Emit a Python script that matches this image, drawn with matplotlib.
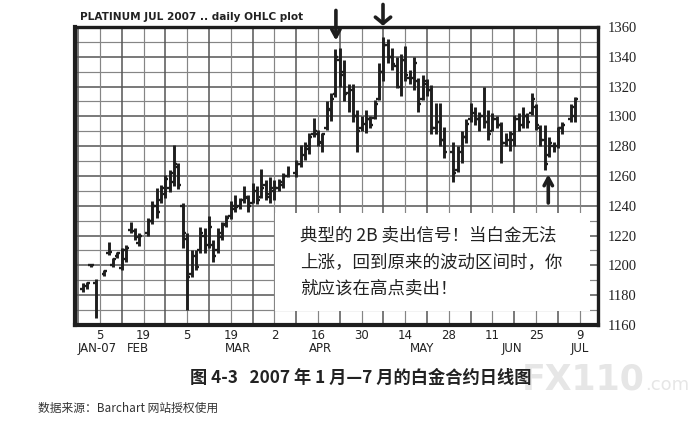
import matplotlib
matplotlib.use("Agg")
import matplotlib.pyplot as plt
from matplotlib.patches import Rectangle
import numpy as np

# ---- data (trading-day index, 0 = Feb 5 2007) ----
days = [-4, -3, -2, -1, 1, 2, 3, 4, 5, 6, 7, 8, 9, 11, 12, 13, 14, 15, 16, 17, 18, 19, 20,
        21, 22, 23, 24, 25, 26, 27, 28, 29, 30, 31, 32, 33, 34, 35, 36, 37, 38, 39, 40,
        41, 42, 43, 45, 46, 47, 48, 49, 50, 51, 52, 53, 54, 55, 56, 57, 58, 59, 60,
        61, 62, 63, 64, 65, 66, 67, 68, 69, 70, 71, 72, 73, 74, 75, 76, 77, 78, 79,
        81, 82, 83, 84, 85, 86, 87, 88, 89, 90, 91, 92, 93, 94, 95, 96, 97, 98, 99, 100,
        101, 102, 103, 104, 105, 106, 108, 109]
opens = [1184, 1186, 1200, 1188, 1194, 1208, 1200, 1206, 1198, 1204, 1224, 1223, 1215, 1222, 1230, 1240, 1244, 1248, 1252, 1256, 1266, 1240, 1218,
         1194, 1206, 1210, 1220, 1214, 1214, 1210, 1219, 1228, 1233, 1238, 1240, 1244, 1245, 1242, 1250, 1246, 1254, 1246, 1250,
         1252, 1254, 1260, 1262, 1268, 1274, 1278, 1288, 1288, 1282, 1292, 1304, 1315, 1338, 1330, 1316, 1318, 1300, 1292,
         1295, 1298, 1299, 1312, 1330, 1348, 1340, 1334, 1320, 1338, 1326, 1326, 1324, 1312, 1322, 1318, 1292, 1296, 1284,
         1276, 1264, 1276, 1286, 1298, 1302, 1298, 1300, 1296, 1290, 1298, 1294, 1282, 1284, 1284, 1298, 1294, 1300, 1302, 1306,
         1292, 1284, 1274, 1280, 1280, 1292, 1298, 1300]
highs = [1188, 1189, 1201, 1191, 1197, 1216, 1205, 1209, 1212, 1214, 1229, 1225, 1222, 1232, 1243, 1252, 1254, 1261, 1264, 1281, 1269, 1242, 1222,
         1210, 1210, 1226, 1225, 1233, 1217, 1225, 1229, 1234, 1243, 1247, 1245, 1253, 1247, 1255, 1253, 1265, 1257, 1259, 1257,
         1258, 1262, 1267, 1271, 1281, 1283, 1289, 1299, 1291, 1289, 1310, 1316, 1345, 1346, 1338, 1322, 1322, 1304, 1300,
         1304, 1300, 1311, 1336, 1353, 1352, 1346, 1340, 1342, 1347, 1331, 1340, 1326, 1328, 1325, 1321, 1309, 1309, 1293,
         1283, 1280, 1290, 1298, 1309, 1306, 1303, 1320, 1304, 1302, 1300, 1296, 1289, 1290, 1301, 1302, 1306, 1302, 1316, 1308,
         1294, 1294, 1286, 1283, 1293, 1296, 1308, 1313]
lows = [1182, 1184, 1199, 1165, 1193, 1207, 1199, 1205, 1197, 1202, 1222, 1217, 1213, 1220, 1228, 1232, 1242, 1245, 1249, 1253, 1251, 1212, 1170,
        1192, 1197, 1208, 1208, 1212, 1202, 1208, 1217, 1226, 1231, 1236, 1238, 1242, 1236, 1242, 1241, 1245, 1244, 1242, 1244,
        1250, 1252, 1259, 1259, 1266, 1271, 1275, 1286, 1280, 1276, 1291, 1297, 1313, 1320, 1310, 1303, 1296, 1276, 1290,
        1289, 1292, 1298, 1311, 1324, 1336, 1331, 1319, 1314, 1324, 1322, 1318, 1303, 1311, 1314, 1288, 1288, 1280, 1272,
        1256, 1263, 1269, 1282, 1296, 1294, 1290, 1292, 1284, 1290, 1292, 1269, 1280, 1277, 1280, 1290, 1292, 1292, 1301, 1291,
        1280, 1264, 1273, 1276, 1279, 1288, 1296, 1296]
closes = [1187, 1188, 1200, 1178, 1196, 1209, 1204, 1208, 1210, 1212, 1226, 1219, 1220, 1230, 1240, 1236, 1252, 1258, 1262, 1268, 1254, 1222, 1192,
          1206, 1199, 1222, 1212, 1226, 1206, 1222, 1227, 1232, 1240, 1239, 1243, 1246, 1240, 1250, 1244, 1252, 1248, 1252, 1252,
          1256, 1260, 1265, 1268, 1275, 1280, 1286, 1290, 1283, 1288, 1305, 1312, 1340, 1328, 1315, 1318, 1300, 1290, 1296,
          1298, 1294, 1308, 1330, 1348, 1340, 1335, 1322, 1338, 1328, 1325, 1336, 1308, 1324, 1318, 1292, 1296, 1284, 1276,
          1262, 1276, 1286, 1295, 1304, 1298, 1300, 1296, 1288, 1298, 1294, 1282, 1286, 1288, 1298, 1294, 1300, 1296, 1312, 1294,
          1284, 1268, 1282, 1278, 1292, 1294, 1306, 1312]

y_ticks = [1160, 1180, 1200, 1220, 1240, 1260, 1280, 1300, 1320, 1340, 1360]
day_tick_pos = [0, 10, 20, 30, 40, 50, 60, 70, 80, 90, 100, 110]
day_tick_labels = ["5", "19", "5", "19", "2", "16", "30", "14", "28", "11", "25", "9"]
month_pos = [-0.7, 8.7, 31.7, 50.5, 73.9, 94.5, 110]
month_labels = ["JAN-07", "FEB", "MAR", "APR", "MAY", "JUN", "JUL"]

title = "PLATINUM JUL 2007 .. daily OHLC plot"
note = "典型的 2B 卖出信号！当白金无法\n上涨，回到原来的波动区间时，你\n就应该在高点卖出！"
caption = "图 4-3   2007 年 1 月—7 月的白金合约日线图"
source = "数据来源：Barchart 网站授权使用"

plt.rcParams['font.family'] = ['Noto Sans CJK SC', 'DejaVu Sans']

fig = plt.figure(figsize=(6.96, 4.25), dpi=100)
ax = fig.add_axes([75/696, 1-325/425, 523/696, 298/425])

d = np.array(days, dtype=float)
ink = "#1e1e1e"

# grid
for v in range(1160, 1361, 10):
    bold = (v % 20 == 0)
    ax.axhline(v, color="#555555" if bold else "#858585", lw=1.1 if bold else 0.85, zorder=0.5)
for g in range(-5, 115, 5):
    bold = (g % 10 == 5) or (g % 10 == -5)
    ax.axvline(g, color="#555555" if bold else "#858585", lw=1.1 if bold else 0.85, zorder=0.5)

# note box (white) hiding grid
ax.add_patch(Rectangle((40.1, 1169.5), 72.3, 66.0, facecolor="white", edgecolor="none", zorder=1))

# OHLC bars
ax.vlines(d, lows, highs, color=ink, lw=2.1, zorder=3)
ax.hlines(opens, d - 0.65, d, color=ink, lw=1.7, zorder=3)
ax.hlines(closes, d, d + 0.65, color=ink, lw=1.7, zorder=3)

ax.set_xlim(-5.73, 114.2)
ax.set_ylim(1160, 1360)

for side in ["left", "bottom"]:
    ax.spines[side].set_linewidth(3.0)
for side in ["top", "right"]:
    ax.spines[side].set_linewidth(2.4)
for s in ax.spines.values():
    s.set_color(ink)
    s.set_zorder(5)

ax.yaxis.tick_right()
ax.set_yticks(y_ticks)
ax.set_yticklabels([str(v) for v in y_ticks], family="Liberation Serif", fontsize=10.5, color="#222222")
ax.tick_params(axis="y", length=0, pad=7)
ax.set_xticks([])

xt = ax.get_xaxis_transform()
for p, lab in zip(day_tick_pos, day_tick_labels):
    ax.text(p, -0.034, lab, transform=xt, ha="center", va="center",
            family="DejaVu Sans", fontsize=8.5, color="#222222")
for p, lab in zip(month_pos, month_labels):
    ax.text(p, -0.08, lab, transform=xt, ha="center", va="center",
            family="DejaVu Sans", fontsize=8.5, color="#222222")

# note text
ax.text(45.8, 1226.5, note, ha="left", va="top", fontsize=12.6, linespacing=1.62,
        color="#222222", zorder=4)

# arrows
akw = dict(arrowstyle="->,head_length=0.55,head_width=0.3", lw=2.6, color=ink)
ax.annotate("", xy=(54.1, 1349), xytext=(54.1, 1373), arrowprops=akw, annotation_clip=False, zorder=6)
akw2 = dict(arrowstyle="->,head_length=0.45,head_width=0.55", lw=2.6, color=ink)
ax.annotate("", xy=(64.9, 1359), xytext=(64.9, 1377), arrowprops=akw2, annotation_clip=False, zorder=6)
ax.annotate("", xy=(102.8, 1263), xytext=(102.8, 1240), arrowprops=akw, annotation_clip=False, zorder=6)

# title
fig.text(80/696, 1-17/425, title, ha="left", va="center", family="DejaVu Sans",
         fontsize=7.6, fontweight="bold", color="#222222")

# watermark
fig.text(522/696, 1-380/425, "FX110", ha="left", va="center", family="DejaVu Sans",
         fontsize=25, fontweight="bold", color="#e6e6e6", zorder=0)
fig.text(645/696, 1-385/425, ".com", ha="left", va="center", family="DejaVu Sans",
         fontsize=13, color="#e6e6e6", zorder=0)

# caption and source
fig.text(361/696, 1-378/425, caption, ha="center", va="center", fontsize=12.4,
         fontweight="bold", color="#222222")
fig.text(38/696, 1-408/425, source, ha="left", va="center", fontsize=8.5, color="#333333")

fig.savefig("out.png", dpi=100)
